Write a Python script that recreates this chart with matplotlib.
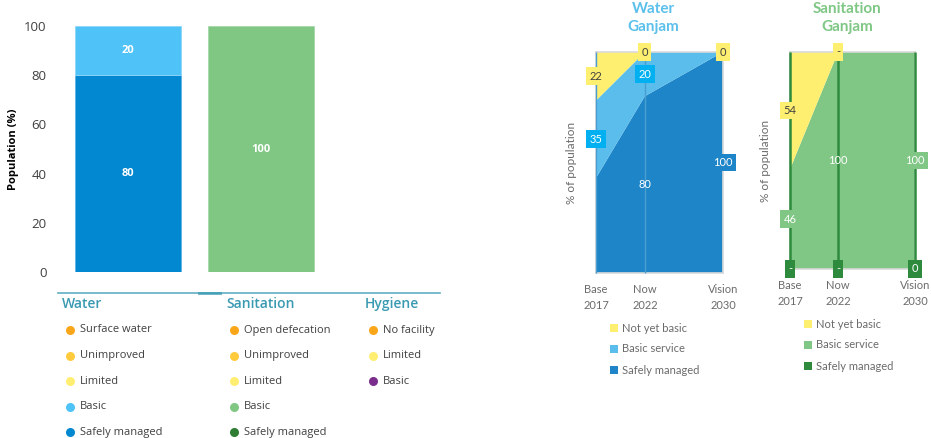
import matplotlib
matplotlib.use("Agg")
import matplotlib.pyplot as plt
from matplotlib.lines import Line2D

plt.rcParams['font.family'] = ['Open Sans', 'DejaVu Sans']

# ---------------- data ----------------
bar_categories = ["Water", "Sanitation", "Hygiene"]
bar_safely = [80, 0, 0]
bar_basic = [20, 100, 0]
y_ticks = [0, 20, 40, 60, 80, 100]

legend_water = ["Surface water", "Unimproved", "Limited", "Basic", "Safely managed"]
legend_sanitation = ["Open defecation", "Unimproved", "Limited", "Basic", "Safely managed"]
legend_hygiene = ["No facility", "Limited", "Basic"]

years = [2017, 2022, 2030]
year_labels = ["Base\n2017", "Now\n2022", "Vision\n2030"]

water_safely = [43, 80, 100]
water_basic = [35, 20, 0]
water_nyb = [22, 0, 0]
water_labels_safely = ["", "80", "100"]
water_labels_basic = ["35", "20", ""]
water_labels_nyb = ["22", "0", "0"]

san_safely = [0, 0, 0]
san_basic = [46, 100, 100]
san_nyb = [54, 0, 0]
san_labels_safely = ["-", "-", "0"]
san_labels_basic = ["46", "100", "100"]
san_labels_nyb = ["54", "-", ""]

# ---------------- colours ----------------
c_surface = "#F9A61A"
c_unimp = "#FFCB3D"
c_limited = "#FFEE72"
c_wbasic = "#4FC3F7"
c_wsafe = "#0288D1"
c_sbasic = "#81C784"
c_ssafe = "#2E7D32"
c_hbasic = "#7B2D8E"
teal = "#3A9AB2"

a_wsafe = "#1E86C8"
a_wbasic = "#5ABDEC"
a_nyb = "#FFEF70"
box_wbasic = "#00B0F0"
a_sbasic = "#80C684"
a_ssafe = "#2E8B3E"
grey_txt = "#6b6b6b"

fig = plt.figure(figsize=(9.31, 4.38), dpi=100)
W, H = 931, 438

def fx(px):
    return px / W

def fy(py):
    return 1 - py / H

# ---------------- left stacked bar ----------------
ax = fig.add_axes([fx(55), fy(272), fx(454 - 55), (272 - 26) / H])
xs = list(range(len(bar_categories)))
ax.bar(xs, bar_safely, width=0.8, color=c_wsafe,
       edgecolor="#5fb3e6", linewidth=0.6)
ax.bar(xs, bar_basic, width=0.8, bottom=bar_safely,
       color=[c_wbasic, c_sbasic, c_sbasic], edgecolor=["#8fd6f8", "#a5d8a8", "#a5d8a8"],
       linewidth=0.6)
for i in xs:
    if bar_safely[i] > 0:
        ax.text(i, bar_safely[i] / 2, str(bar_safely[i]), ha="center", va="center",
                color="white", fontsize=8, fontweight="bold")
    if bar_basic[i] > 0:
        ax.text(i, bar_safely[i] + bar_basic[i] / 2, str(bar_basic[i]), ha="center",
                va="center", color="white", fontsize=8, fontweight="bold")
ax.set_xlim(-0.55, 2.45)
ax.set_ylim(0, 100)
ax.set_yticks(y_ticks)
ax.tick_params(axis="y", length=0, labelsize=9.5, labelcolor="#404040", pad=6)
ax.set_xticks([])
for s in ax.spines.values():
    s.set_visible(False)
ax.set_ylabel("Population (%)", fontsize=8, fontweight="bold", labelpad=4)

# legend block under bars
fig.add_artist(Line2D([fx(58), fx(440)], [fy(293), fy(293)], color=teal, lw=1.2, alpha=0.8))
fig.add_artist(Line2D([fx(199), fx(220)], [fy(292.8), fy(292.8)], color=teal, lw=2.0, alpha=0.8))
groups = [
    (62, "Water", legend_water, [c_surface, c_unimp, c_limited, c_wbasic, c_wsafe]),
    (226, "Sanitation", legend_sanitation, [c_surface, c_unimp, c_limited, c_sbasic, c_ssafe]),
    (365, "Hygiene", legend_hygiene, [c_surface, c_limited, c_hbasic]),
]
row_y = [330, 355.5, 381, 406.5, 432]
for x0, head, items, cols in groups:
    fig.text(fx(x0), fy(304), head, color=teal, fontsize=10, ha="left", va="center",
             fontweight="semibold")
    for j, (lab, col) in enumerate(zip(items, cols)):
        fig.add_artist(Line2D([fx(x0 + 8)], [fy(row_y[j])], marker="o", markersize=6.5,
                              color=col, markeredgewidth=0, linestyle="none"))
        fig.text(fx(x0 + 18), fy(row_y[j]), lab, fontsize=8, color="#404040",
                 ha="left", va="center")

# ---------------- area charts ----------------
def label(ax, x, y, s, fc, tc):
    if not s:
        return
    kw = dict(ha="center", va="center", fontsize=8, color=tc, clip_on=False,
              family=["Lato", "DejaVu Sans"], zorder=5)
    if fc is not None:
        kw["bbox"] = dict(boxstyle="square,pad=0.3", fc=fc, ec="none")
    ax.text(x, y, s, **kw)

def setup(ax, tick_pad):
    ax.set_xlim(years[0], years[-1])
    ax.set_ylim(0, 100)
    ax.set_yticks([])
    ax.set_xticks(years)
    ax.set_xticklabels(year_labels, fontsize=8, color=grey_txt,
                       family=["Lato", "DejaVu Sans"], linespacing=1.5)
    ax.tick_params(axis="x", length=0, pad=tick_pad)
    for s in ax.spines.values():
        s.set_color("#d9d9d9")
        s.set_linewidth(1.2)
    ax.set_ylabel("% of population", fontsize=8.5, color=grey_txt,
                  family=["Lato", "DejaVu Sans"], labelpad=14)

# water
axw = fig.add_axes([fx(596), fy(273), fx(723 - 596), (273 - 52) / H])
axw.stackplot(years, water_safely, water_basic, water_nyb,
              colors=[a_wsafe, a_wbasic, a_nyb], linewidth=0)
axw.vlines(years[:2], 0, 100, color="#4a9fd0", lw=1.0, zorder=3, clip_on=False)
setup(axw, 8)
for i, x in enumerate(years):
    label(axw, x, water_safely[i] / 2, water_labels_safely[i],
          None if i < 2 else a_wsafe, "white")
    label(axw, x, water_safely[i] + water_basic[i] / 2, water_labels_basic[i],
          box_wbasic, "white")
    y_n = water_safely[i] + water_basic[i] + water_nyb[i] / 2
    label(axw, x, y_n, water_labels_nyb[i], a_nyb, "#404040")
fig.text(fx(653), fy(9), "Water", ha="center", va="center", color="#5BC0EB",
         fontsize=11, fontweight="bold", family=["Lato", "DejaVu Sans"])
fig.text(fx(653), fy(27), "Ganjam", ha="center", va="center", color="#5BC0EB",
         fontsize=11, fontweight="bold", family=["Lato", "DejaVu Sans"])

# sanitation
axs = fig.add_axes([fx(790), fy(269), fx(915 - 790), (269 - 52) / H])
axs.stackplot(years, san_safely, san_basic, san_nyb,
              colors=[a_ssafe, a_sbasic, a_nyb], linewidth=0)
axs.vlines(years, 0, 100, color=a_ssafe, lw=1.8, clip_on=False, zorder=3)
setup(axs, 8)
for i, x in enumerate(years):
    label(axs, x, san_safely[i], san_labels_safely[i], a_ssafe, "white")
    label(axs, x, san_safely[i] + san_basic[i] / 2, san_labels_basic[i],
          a_sbasic if i != 1 else None, "white")
    y_n = san_safely[i] + san_basic[i] + san_nyb[i] / 2
    label(axs, x, y_n, san_labels_nyb[i], a_nyb, "#404040")
fig.text(fx(847), fy(9), "Sanitation", ha="center", va="center", color="#7FC785",
         fontsize=11, fontweight="bold", family=["Lato", "DejaVu Sans"])
fig.text(fx(847), fy(27), "Ganjam", ha="center", va="center", color="#7FC785",
         fontsize=11, fontweight="bold", family=["Lato", "DejaVu Sans"])

# legends for area charts
def sq_legend(x0, y0s, labels, cols):
    for yy, lab, col in zip(y0s, labels, cols):
        fig.add_artist(Line2D([fx(x0)], [fy(yy)], marker="s", markersize=5.5, color=col,
                              markeredgewidth=0, linestyle="none"))
        fig.text(fx(x0 + 8), fy(yy), lab, fontsize=8, color=grey_txt, ha="left",
                 va="center", family=["Lato", "DejaVu Sans"])

sq_legend(614, [328, 349, 370], ["Not yet basic", "Basic service", "Safely managed"],
          [a_nyb, a_wbasic, a_wsafe])
sq_legend(808, [324, 345, 366], ["Not yet basic", "Basic service", "Safely managed"],
          [a_nyb, a_sbasic, a_ssafe])

fig.savefig("out.png", dpi=100)
